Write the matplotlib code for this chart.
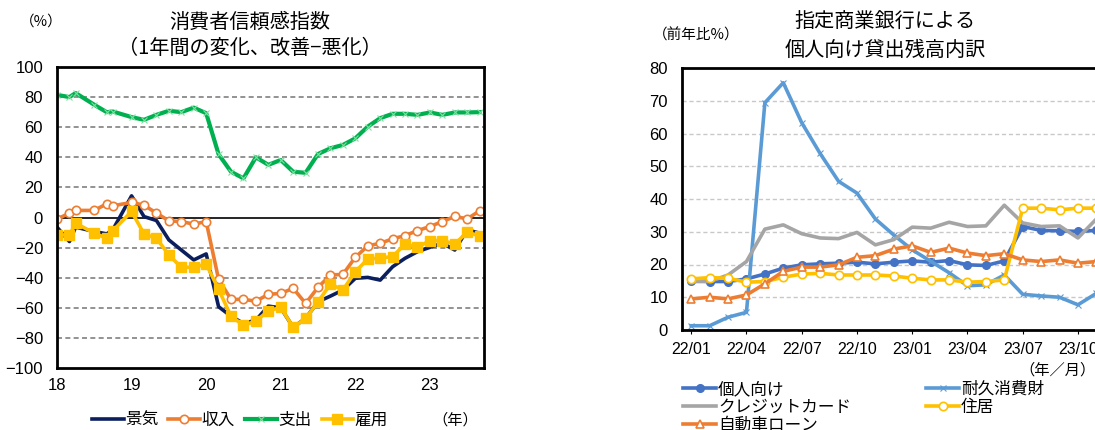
import matplotlib.pyplot as plt

plt.rcParams['font.family'] = ['Noto Sans CJK JP', 'DejaVu Sans']
NUM_FONT = ['Liberation Sans', 'DejaVu Sans']

# --- left chart: consumer confidence (months since Jan 2018) ---
months_left = [0, 2, 3, 6, 8, 9, 12, 14, 16, 18, 20, 22, 24, 26, 28, 30, 32, 34,
               36, 38, 40, 42, 44, 46, 48, 50, 52, 54, 56, 58, 60, 62, 64, 66, 68]
keiki = [-6.4, -16, -6.4, -9.3, -10.9, -8, 14.4, 0.6, -2, -14.9, -21.6, -28.2,
         -24.2, -59.3, -65.6, -70.4, -68.2, -58.9, -60, -73, -67, -56, -52.2,
         -48.2, -40.4, -39.8, -41.6, -32.7, -27.1, -22.7, -19.8, -17.1, -21.6,
         -8.2, -10.4]
shunyu = [-1.1, 2.9, 4.7, 4.7, 9.1, 7.8, 10, 8.2, 2.9, -2.2, -2.7, -4.4, -2.7,
          -41.1, -54.4, -54.4, -55.6, -51.1, -50.4, -47.1, -57.1, -46.4, -38.2,
          -37.8, -26.4, -18.9, -17.1, -14.2, -12, -8.7, -6, -2.7, 0.7, -0.9, 4.4]
shishutsu = [81.5, 80, 82.7, 74.9, 70, 70.4, 66.7, 64.9, 68.2, 70.9, 70, 73,
             69.3, 42, 30.4, 26, 40, 35, 38.2, 30.4, 29.7, 42.2, 46, 48.2, 52.6,
             60.4, 66, 68.9, 68.9, 68.2, 69.8, 68.2, 69.8, 69.8, 70]
koyo = [-11.6, -11.6, -3.8, -10.4, -13.8, -8.7, 4, -10.9, -13.8, -24.9, -33.1,
        -33.1, -30.9, -47.8, -65.6, -71.6, -68.9, -62, -59.8, -73, -67.1, -56,
        -44.2, -48.2, -36, -27.6, -26.9, -26, -17.6, -19.8, -15.3, -15.3, -17.6,
        -9.8, -12.2]
year_ticks = [0, 12, 24, 36, 48, 60]
year_labels = ['18', '19', '20', '21', '22', '23']

# --- right chart: bank loans to individuals (months since Jan 2022) ---
months_right = list(range(23))
kojin = [15.1, 14.8, 14.8, 15.6, 17.1, 18.9, 19.9, 20.2, 20.4, 20.7, 20.2,
         20.7, 21.1, 20.7, 21.2, 19.9, 19.7, 21.1, 31.6, 30.4, 30.3, 30.1, 30.4]
taikyu = [1.3, 1.3, 3.9, 5.4, 69.4, 75.5, 63.3, 53.9, 45.4, 41.8, 33.9,
          29, 24.5, 21, 17.5, 13.5, 13.8, 16.8, 10.9, 10.4, 10, 7.7, 11.2]
credit = [14.8, 14.8, 16.8, 20.9, 30.8, 32.1, 29.4, 28.1, 27.9, 29.8, 26,
          27.6, 31.4, 31.1, 32.9, 31.6, 31.8, 38.1, 32.7, 31.6, 31.8, 28.1, 33.9]
jukyo = [15.6, 16, 15.8, 14.6, 14.8, 16.1, 17.1, 17.3, 16.8, 16.8, 16.8,
         16.5, 15.8, 15.3, 15.3, 14.6, 14.8, 15.3, 37.2, 37.2, 36.7, 37.2, 37.2]
jidosha = [9.5, 10, 9.5, 10.7, 14.1, 17.9, 19.2, 19.2, 19.9, 22.2, 22.7,
           24.7, 25.7, 23.7, 25, 23.5, 22.7, 23.3, 21.4, 20.9, 21.4, 20.4, 20.9]
month_ticks = [0, 3, 6, 9, 12, 15, 18, 21]
month_labels = ['22/01', '22/04', '22/07', '22/10', '23/01', '23/04', '23/07', '23/10']

fig = plt.figure(figsize=(10.95, 4.3), dpi=100)
W, H = 1095, 430

# ---------- left ----------
ax1 = fig.add_axes([57 / W, 62 / H, 427 / W, 301 / H])
ax1.plot(months_left, keiki, color='#0B1F5E', lw=2.6, label='景気')
ax1.plot(months_left, shunyu, color='#ED7D31', lw=2.6, marker='o', ms=6,
         mfc='white', mec='#ED7D31', mew=1.2, label='収入')
ax1.plot(months_left, shishutsu, color='#00B050', lw=3, marker='x', ms=4,
         mec='#7FE0A0', mew=0.8, label='支出')
ax1.plot(months_left, koyo, color='#FFC000', lw=2.6, marker='s', ms=6.5,
         label='雇用')
ax1.axhline(0, color='black', lw=1.2, zorder=1)
for v in [-80, -60, -40, -20, 20, 40, 60, 80]:
    ax1.axhline(v, color='#808080', lw=1.2, ls=(0, (3, 2)), zorder=0)
ax1.set_xlim(0, 68.7)
ax1.set_ylim(-100, 100)
ax1.set_yticks(range(-100, 101, 20))
ax1.set_xticks(year_ticks)
ax1.set_xticklabels(year_labels)
ax1.tick_params(axis='y', length=0, labelsize=12, pad=10)
ax1.tick_params(axis='x', length=0, labelsize=12, pad=7)
for lab in ax1.get_xticklabels() + ax1.get_yticklabels():
    lab.set_family(NUM_FONT)
for s in ax1.spines.values():
    s.set_linewidth(2)
fig.text(250 / W, 1 - 22 / H, '消費者信頼感指数', ha='center', va='center', fontsize=14.5)
fig.text(250 / W, 1 - 48 / H, '（1年間の変化、改善−悪化）', ha='center', va='center', fontsize=14.5)
fig.text(41 / W, 1 - 22 / H, '（%）', ha='center', va='center', fontsize=10.5)
fig.legend(handles=ax1.get_lines()[:4], loc='center', bbox_to_anchor=(240 / W, 10 / H),
           ncol=4, frameon=False, fontsize=12, handlelength=1.9, handletextpad=0.1,
           columnspacing=0.6, borderpad=0)
fig.text(455 / W, 10 / H, '（年）', ha='center', va='center', fontsize=11)

# ---------- right ----------
ax2 = fig.add_axes([682 / W, 100 / H, 442 / W, 262 / H])
l1, = ax2.plot(months_right, kojin, color='#4472C4', lw=2.6, marker='o', ms=5.5,
               label='個人向け')
l2, = ax2.plot(months_right, taikyu, color='#5B9BD5', lw=2.6, marker='x', ms=4,
               mew=0.8, label='耐久消費財')
l3, = ax2.plot(months_right, credit, color='#A5A5A5', lw=2.6, label='クレジットカード')
l4, = ax2.plot(months_right, jukyo, color='#FFC000', lw=2.6, marker='o', ms=6,
               mfc='white', mec='#FFC000', mew=1.2, label='住居')
l5, = ax2.plot(months_right, jidosha, color='#ED7D31', lw=2.6, marker='^', ms=6,
               mfc='white', mec='#ED7D31', mew=1.2, label='自動車ローン')
for v in range(10, 80, 10):
    ax2.axhline(v, color='#C8C8C8', lw=1, ls=(0, (3, 2)), zorder=0)
ax2.set_xlim(-0.5, 23.5)
ax2.set_ylim(0, 80)
ax2.set_yticks(range(0, 81, 10))
ax2.set_xticks(month_ticks)
ax2.set_xticklabels(month_labels)
ax2.tick_params(axis='y', length=0, labelsize=12, pad=10)
ax2.tick_params(axis='x', length=3, direction='out', labelsize=11.5, pad=6)
for lab in ax2.get_xticklabels() + ax2.get_yticklabels():
    lab.set_family(NUM_FONT)
for s in ax2.spines.values():
    s.set_linewidth(2)
fig.text(885 / W, 1 - 22 / H, '指定商業銀行による', ha='center', va='center', fontsize=14.5)
fig.text(885 / W, 1 - 50 / H, '個人向け貸出残高内訳', ha='center', va='center', fontsize=14.5)
fig.text(696 / W, 1 - 35 / H, '（前年比%）', ha='center', va='center', fontsize=10.5)
fig.text(1057 / W, 1 - 370 / H, '（年／月）', ha='center', va='center', fontsize=11)
fig.legend(handles=[l1, l3, l5, l2, l4], loc='upper left',
           bbox_to_anchor=(683 / W, 1 - 381 / H), ncol=2, frameon=False,
           fontsize=12, handlelength=2.0, handletextpad=0.1, columnspacing=4.5,
           labelspacing=0.05, borderpad=0, borderaxespad=0)

fig.savefig('out.png', dpi=100)
